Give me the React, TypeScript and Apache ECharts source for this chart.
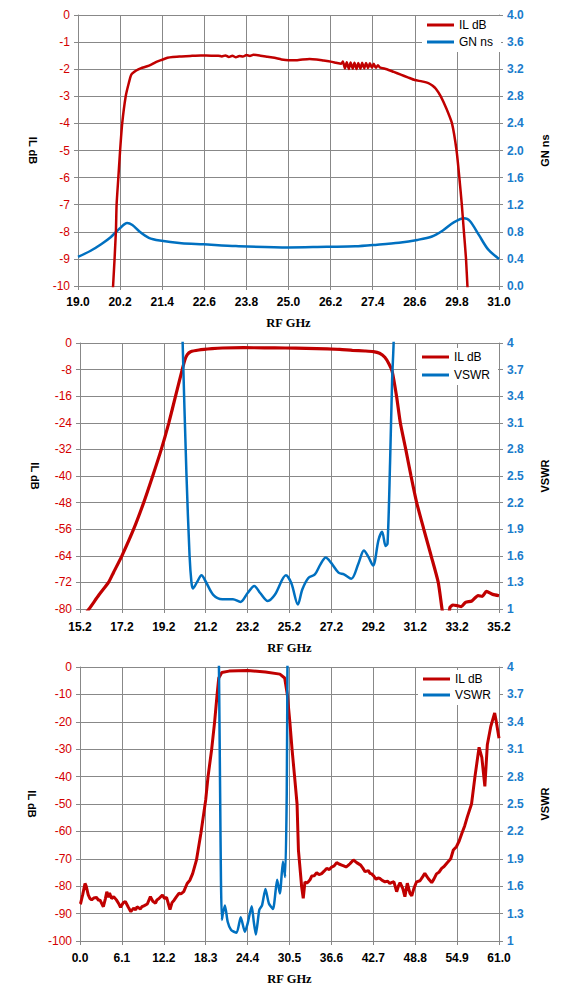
import React, { useEffect, useRef } from "react";
import * as echarts from "echarts";

// ---------- Chart 1: IL dB and group delay (GN ns), 19–31 GHz ----------
const il1: [number, number][] = [
  [19.93, -11], [20.0, -10.0], [20.08, -8.0], [20.1, -7.0], [20.15, -6.0], [20.2, -5.0],
  [20.26, -4.0], [20.36, -3.0], [20.45, -2.5], [20.52, -2.2], [20.66, -2.05], [20.8, -1.96],
  [20.95, -1.9], [21.1, -1.82], [21.25, -1.72], [21.4, -1.65], [21.55, -1.58], [21.7, -1.55],
  [21.95, -1.53], [22.2, -1.51], [22.5, -1.49], [22.8, -1.5], [23.0, -1.5], [23.1, -1.53],
  [23.2, -1.49], [23.3, -1.55], [23.4, -1.5], [23.5, -1.56], [23.6, -1.51], [23.7, -1.53],
  [23.8, -1.48], [23.9, -1.51], [24.0, -1.47], [24.2, -1.5], [24.4, -1.54], [24.6, -1.58],
  [24.8, -1.64], [25.0, -1.67], [25.2, -1.67], [25.4, -1.64], [25.6, -1.62], [25.8, -1.64],
  [26.0, -1.68], [26.2, -1.72], [26.35, -1.76], [26.5, -1.8], [26.55, -1.72], [26.61, -1.97],
  [26.66, -1.74], [26.72, -1.99], [26.77, -1.75], [26.83, -1.98], [26.88, -1.76], [26.94, -1.99],
  [26.99, -1.77], [27.05, -1.98], [27.1, -1.76], [27.16, -1.97], [27.21, -1.77], [27.27, -1.96],
  [27.32, -1.78], [27.38, -1.95], [27.43, -1.8], [27.49, -1.95], [27.55, -1.85], [27.6, -1.93],
  [27.8, -2.0], [28.0, -2.1], [28.2, -2.2], [28.4, -2.3], [28.6, -2.4], [28.8, -2.45],
  [29.0, -2.52], [29.1, -2.6], [29.2, -2.72], [29.34, -3.0], [29.5, -3.45], [29.66, -4.0],
  [29.79, -5.0], [29.87, -6.0], [29.94, -7.0], [30.0, -8.0], [30.06, -9.0], [30.1, -10.0],
  [30.15, -11],
];
const gn1: [number, number][] = [
  [19.0, 0.43], [19.36, 0.52], [19.67, 0.62], [19.93, 0.72], [20.19, 0.85], [20.4, 0.93],
  [20.55, 0.9], [20.76, 0.8], [21.02, 0.71], [21.33, 0.67], [21.95, 0.63], [22.57, 0.615],
  [23.5, 0.59], [25.0, 0.57], [26.09, 0.58], [26.9, 0.585], [27.53, 0.61], [28.15, 0.64],
  [28.67, 0.68], [29.09, 0.73], [29.4, 0.82], [29.71, 0.94], [30.0, 1.0], [30.17, 0.96],
  [30.43, 0.75], [30.69, 0.54], [31.0, 0.4],
];

// ---------- Chart 2: IL dB and VSWR, 15.2–35.2 GHz ----------
const il2: [number, number][] = [
  [15.2, -83.5], [15.63, -80], [16.1, -75.8], [16.56, -72], [16.8, -69], [17.2, -64],
  [17.76, -56], [18.24, -48], [18.67, -40], [19.08, -32], [19.44, -24], [19.76, -16],
  [20.08, -8], [20.2, -5.2], [20.32, -3.5], [20.48, -2.6], [20.87, -2.1], [21.5, -1.7],
  [22.0, -1.5], [23.0, -1.4], [24.0, -1.45], [25.0, -1.5], [26.0, -1.6], [27.0, -1.75],
  [27.6, -1.9], [28.2, -2.2], [28.8, -2.4], [29.2, -2.6], [29.5, -3.1], [29.75, -4.3],
  [29.95, -6.3], [30.1, -8.5], [30.31, -16], [30.49, -24], [30.75, -32], [31.0, -40],
  [31.27, -48], [31.61, -56], [31.96, -64], [32.3, -72], [32.48, -80], [32.6, -84],
  [32.75, -84], [32.86, -79.5], [33.0, -78.8], [33.2, -79], [33.4, -79.3], [33.6, -78],
  [33.9, -77.6], [34.2, -76], [34.4, -76.2], [34.6, -74.7], [34.9, -75.6], [35.2, -76],
];
const vswr2: [number, number][] = [
  [20.05, 4.6], [20.1, 4.0], [20.28, 2.53], [20.43, 1.6], [20.52, 1.3], [20.59, 1.23],
  [20.78, 1.3], [21.0, 1.38], [21.2, 1.31], [21.56, 1.16], [21.99, 1.11], [22.5, 1.11],
  [22.86, 1.08], [23.2, 1.18], [23.52, 1.26], [23.8, 1.18], [24.16, 1.09], [24.5, 1.16],
  [25.03, 1.38], [25.29, 1.29], [25.6, 1.05], [25.81, 1.22], [26.1, 1.35], [26.41, 1.39],
  [26.67, 1.5], [26.93, 1.58], [27.19, 1.52], [27.54, 1.41], [27.8, 1.39], [28.15, 1.34],
  [28.5, 1.52], [28.75, 1.66], [28.96, 1.59], [29.19, 1.49], [29.45, 1.78], [29.62, 1.87],
  [29.79, 1.71], [29.88, 1.74], [30.0, 2.65], [30.1, 3.59], [30.17, 4.0], [30.22, 4.6],
];

// ---------- Chart 3: IL dB and VSWR, 0–61 GHz ----------
const il3: [number, number][] = [
  [0.0, -86.5], [0.1, -86.2], [0.4, -83], [0.73, -79], [0.9, -80], [1.2, -83.2], [1.45, -84.5],
  [1.7, -85], [2.0, -84.3], [2.4, -84.1], [2.7, -85.2], [2.9, -85], [3.4, -87.5], [3.7, -84.5],
  [3.9, -82], [4.1, -84], [4.3, -82.5], [4.6, -84.5], [4.9, -83.8], [5.3, -85], [5.6, -86.2],
  [5.9, -87.7], [6.3, -86], [6.6, -85.6], [7.0, -87.5], [7.4, -89.3], [7.8, -88], [8.1, -88.6],
  [8.3, -87.5], [8.8, -88.3], [9.0, -87.5], [9.3, -87.2], [9.8, -86.5], [10.25, -83.8],
  [10.6, -85.5], [11.0, -86.2], [11.2, -85], [11.5, -84.5], [12.0, -83.2], [12.3, -84.5],
  [12.6, -84.1], [13.1, -88.5], [13.4, -86], [13.7, -85.1], [14.0, -84], [14.4, -82.6],
  [14.7, -82.8], [15.1, -82], [15.6, -79], [16.0, -77.8], [16.4, -75.4], [16.95, -70.5],
  [17.6, -60.7], [18.3, -48.5], [18.64, -40], [19.17, -30], [19.6, -20], [19.96, -10],
  [20.2, -4], [20.65, -2], [21.7, -1.5], [24.4, -1.3], [27.0, -1.8], [29.1, -2.6], [29.8, -4],
  [30.18, -10], [30.55, -20], [30.87, -30], [31.24, -40], [31.6, -50], [31.8, -66.8],
  [32.27, -80.2], [32.5, -84.4], [32.75, -78.4], [33.0, -78.9], [33.24, -78.4], [33.5, -77.6],
  [33.73, -76.3], [34.1, -76.2], [34.46, -75.1], [34.8, -75.8], [35.18, -75.4], [35.5, -74.6],
  [35.9, -73.5], [36.3, -73.9], [36.64, -73], [37.0, -72.6], [37.37, -71.4], [37.7, -71.9],
  [38.1, -72.3], [38.4, -72.6], [38.73, -73], [39.0, -72.5], [39.3, -71.8], [39.8, -70.4],
  [40.28, -71.4], [40.86, -72.3], [41.2, -73.5], [41.5, -74.7], [41.98, -74.3], [42.2, -75.3],
  [42.46, -75.5], [42.8, -76.4], [43.1, -77.5], [43.4, -77], [43.68, -77.2], [44.0, -77.9],
  [44.4, -78.4], [44.8, -78.2], [45.1, -79], [45.4, -78.6], [45.7, -78.4], [46.1, -82],
  [46.35, -80], [46.6, -78.7], [47.0, -80.9], [47.3, -83.8], [47.65, -78.9], [48.04, -82.6],
  [48.3, -83.5], [48.6, -80.9], [49.0, -78.4], [49.5, -78], [49.9, -76.5], [50.2, -75.3],
  [50.7, -77.2], [51.2, -78.7], [51.5, -77.5], [51.9, -75.5], [52.3, -74.8], [52.65, -73.5],
  [53.0, -72.8], [53.4, -71.6], [53.97, -70], [54.35, -66.8], [54.8, -65.6], [55.2, -63.5],
  [55.6, -60.7], [56.0, -58], [56.4, -54.6], [57.0, -50], [57.5, -40], [58.1, -29.3],
  [58.5, -33], [58.94, -43.6], [59.3, -28.4], [59.8, -21.7], [60.37, -16.8], [60.6, -19.9],
  [61.0, -26],
];
const vswr3: [number, number][] = [
  [20.15, 4.6], [20.23, 4.0], [20.4, 2.62], [20.52, 1.67], [20.65, 1.23], [20.8, 1.3],
  [21.1, 1.39], [21.5, 1.21], [22.0, 1.12], [22.8, 1.09], [23.4, 1.26], [24.0, 1.1],
  [24.4, 1.19], [25.0, 1.38], [25.3, 1.21], [25.6, 1.07], [26.1, 1.34], [26.5, 1.39],
  [27.0, 1.57], [27.5, 1.41], [28.1, 1.35], [28.7, 1.67], [29.1, 1.52], [29.55, 1.87],
  [29.87, 1.7], [30.1, 2.62], [30.2, 4.0], [30.25, 4.6],
];

// axis ranges
const X1 = { min: 19.0, max: 31.0, step: 1.2 };
const X2 = { min: 15.2, max: 35.2, step: 2 };
const X3 = { min: 0, max: 61.0, step: 6.1 };
const VSWR_MIN = 1;

const RED = "#C00000";
const BLUE = "#0070C0";
const RED_LABEL = "#D40000";
const BLUE_LABEL = "#1A7CCB";
const GRID = "#888888";
const SANS = "Liberation Sans, Arial, sans-serif";
const SERIF = "Liberation Serif, Times New Roman, serif";

function xAxis(gridIndex: number, r: { min: number; max: number; step: number }, margin: number, nameGap: number) {
  return {
    type: "value",
    gridIndex,
    min: 0,
    max: +(r.max - r.min).toFixed(4),
    interval: r.step,
    axisLine: { show: true, onZero: false, lineStyle: { color: GRID, width: 1 } },
    axisTick: { show: true, inside: false, length: 4, lineStyle: { color: GRID } },
    splitLine: { show: true, lineStyle: { color: GRID, width: 1 } },
    axisLabel: {
      color: "#000",
      fontFamily: SANS,
      fontWeight: "bold",
      fontSize: 12,
      margin,
      showMinLabel: true,
      showMaxLabel: true,
      formatter: (v: number) => (v + r.min).toFixed(1),
    },
    name: "RF GHz",
    nameLocation: "middle",
    nameGap,
    nameTextStyle: { fontFamily: SERIF, fontWeight: "bold", fontSize: 12.5, color: "#000" },
  };
}

function leftAxis(gridIndex: number, min: number, interval: number) {
  return {
    type: "value",
    gridIndex,
    position: "left",
    min,
    max: 0,
    interval,
    axisLine: { show: true, lineStyle: { color: GRID, width: 1 } },
    axisTick: { show: true, inside: false, length: 4, lineStyle: { color: GRID } },
    splitLine: { show: true, lineStyle: { color: GRID, width: 1 } },
    axisLabel: { color: RED_LABEL, fontFamily: SANS, fontSize: 12, margin: 8, showMinLabel: true, showMaxLabel: true },
    name: "IL dB",
    nameLocation: "middle",
    nameRotate: -90,
    nameGap: 40,
    nameTextStyle: { fontFamily: SANS, fontWeight: "bold", fontSize: 11, color: "#000" },
  };
}

function rightAxis(gridIndex: number, name: string, max: number, interval: number, fmt: (v: number) => string) {
  return {
    type: "value",
    gridIndex,
    position: "right",
    min: 0,
    max,
    interval,
    axisLine: { show: true, lineStyle: { color: GRID, width: 1 } },
    axisTick: { show: true, inside: false, length: 4, lineStyle: { color: GRID } },
    splitLine: { show: false },
    axisLabel: {
      color: BLUE_LABEL,
      fontFamily: SANS,
      fontWeight: "bold",
      fontSize: 12,
      margin: 8,
      showMinLabel: true,
      showMaxLabel: true,
      formatter: fmt,
    },
    name,
    nameLocation: "middle",
    nameRotate: 90,
    nameGap: 40,
    nameTextStyle: { fontFamily: SANS, fontWeight: "bold", fontSize: 11, color: "#000" },
  };
}

function legend(left: number, top: number, names: string[], gap: number) {
  return {
    orient: "vertical",
    left,
    top,
    data: names,
    icon: "rect",
    itemWidth: 27,
    itemHeight: 3,
    itemGap: gap,
    padding: [2, 8, 3, 5],
    backgroundColor: "#ffffff",
    textStyle: { fontFamily: SANS, fontSize: 12, color: "#000", lineHeight: 14 },
  };
}

function line(name: string, xi: number, yi: number, data: number[][], color: string, width: number, smooth: number | boolean) {
  return {
    type: "line",
    name,
    xAxisIndex: xi,
    yAxisIndex: yi,
    data,
    showSymbol: false,
    symbol: "none",
    smooth,
    clip: true,
    color,
    itemStyle: { color },
    lineStyle: { color, width },
    emphasis: { disabled: true },
  };
}

const vswrFmt = (v: number) => String(Math.round((v + VSWR_MIN) * 10) / 10);

export default function App() {
  const ref = useRef<HTMLDivElement>(null);

  useEffect(() => {
    document.body.style.margin = "0";
    if (!ref.current) return;
    const chart = echarts.init(ref.current, null, { renderer: "svg" });

    const shift = (d: [number, number][], dx: number, dy = 0) => d.map(([x, y]) => [x - dx, y - dy]);

    chart.setOption({
      animation: false,
      backgroundColor: "#ffffff",
      grid: [
        { left: 78, top: 15, width: 421, height: 271 },
        { left: 80, top: 343, width: 419, height: 266 },
        { left: 80, top: 667, width: 419, height: 274 },
      ],
      xAxis: [xAxis(0, X1, 10, 30), xAxis(1, X2, 12, 32), xAxis(2, X3, 11, 31)],
      yAxis: [
        leftAxis(0, -10, 1),
        rightAxis(0, "GN ns", 4, 0.4, (v: number) => v.toFixed(1)),
        leftAxis(1, -80, 8),
        rightAxis(1, "VSWR", 3, 0.3, vswrFmt),
        leftAxis(2, -100, 10),
        rightAxis(2, "VSWR", 3, 0.3, vswrFmt),
      ],
      legend: [
        legend(422, 16, ["IL dB", "GN ns"], 3),
        legend(417, 348, ["IL dB", "VSWR"], 4),
        legend(418, 670, ["IL dB", "VSWR"], 2),
      ],
      series: [
        line("GN ns", 0, 1, shift(gn1, X1.min), BLUE, 2.5, 0.3),
        line("IL dB", 0, 0, shift(il1, X1.min), RED, 2.5, 0.2),
        line("IL dB", 1, 2, shift(il2, X2.min), RED, 3.2, 0.2),
        line("VSWR", 1, 3, shift(vswr2, X2.min, VSWR_MIN), BLUE, 2.5, 0.3),
        line("IL dB", 2, 4, shift(il3, X3.min), RED, 3, false),
        line("VSWR", 2, 5, shift(vswr3, X3.min, VSWR_MIN), BLUE, 2.5, 0.2),
      ],
    });

    return () => chart.dispose();
  }, []);

  return <div ref={ref} style={{ width: 567, height: 1003 }} />;
}
